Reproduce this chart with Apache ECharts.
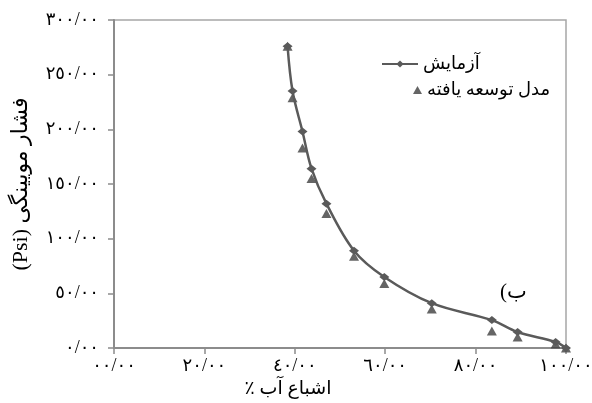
<!DOCTYPE html>
<html>
<head>
<meta charset="utf-8">
<script src="https://cdn.jsdelivr.net/npm/echarts@6/dist/echarts.min.js"></script>
<style>
html, body { margin: 0; padding: 0; background: #fff; }
#chart { width: 592px; height: 403px; }
</style>
</head>
<body>
<div id="chart"></div>
<script>
// اشباع آب (%) و فشار مویینگی (Psi)
var saturation = [38.4, 39.5, 41.7, 43.7, 47.0, 53.1, 59.8, 70.3, 83.6, 89.3, 97.7, 100];
var pcTest = [276, 235, 198, 164, 132, 89, 65, 41, 25.5, 14.6, 5.5, 0];
var pcModel = [276, 229, 183, 155, 123, 84, 59, 35.6, 15.5, 10, 3.6, 0];

var xTicks = [0, 20, 40, 60, 80, 100];
var xTickLabels = ['٠٠/٠٠', '٢٠/٠٠', '٤٠/٠٠', '٦٠/٠٠', '٨٠/٠٠', '١٠٠/٠٠'];
var yTicks = [0, 50, 100, 150, 200, 250, 300];
var yTickLabels = ['٠/٠٠', '٥٠/٠٠', '١٠٠/٠٠', '١٥٠/٠٠', '٢٠٠/٠٠', '٢٥٠/٠٠', '٣٠٠/٠٠'];

var seriesNames = ['آزمایش', 'مدل توسعه یافته'];
var xTitle = 'اشباع آب ٪';
var yTitle = 'فشار مویینگی (Psi)';
var panelTag = 'ب)';

var FONT = "'Liberation Serif', 'DejaVu Sans', serif";
var RLE = '\u202B', PDF = '\u202C', RLM = '\u200F';

function pairs(xs, ys) {
    var out = [];
    for (var i = 0; i < xs.length; i++) out.push([xs[i], ys[i]]);
    return out;
}

var chart = echarts.init(document.getElementById('chart'), null, { renderer: 'canvas' });
var option = {
    backgroundColor: '#fff',
    animation: false,
    textStyle: { fontFamily: FONT, color: '#000' },
    grid: {
        left: 114, right: 26, top: 20, bottom: 55,
        outerBoundsMode: 'none', containLabel: false,
        show: true, borderColor: '#a6a6a6', borderWidth: 1.5
    },
    legend: [{
        data: [seriesNames[0]],
        left: 376, top: 50,
        itemWidth: 36, itemHeight: 9, itemGap: 4,
        textStyle: { fontFamily: FONT, fontSize: 18, color: '#000' }
    }, {
        data: [{ name: seriesNames[1], icon: 'triangle' }],
        left: 408, top: 76,
        itemWidth: 9, itemHeight: 8,
        textStyle: { fontFamily: FONT, fontSize: 18, color: '#000' }
    }],
    xAxis: {
        type: 'value', min: 0, max: 100, interval: 20,
        name: xTitle + RLM, nameLocation: 'middle', nameGap: 26,
        nameTextStyle: { fontFamily: FONT, fontSize: 19, color: '#000', padding: [0, 104, 0, 0] },
        axisLine: { lineStyle: { color: '#8c8c8c', width: 2 } },
        axisTick: { show: true, length: 6, lineStyle: { color: '#8c8c8c', width: 1.5 } },
        splitLine: { show: false },
        axisLabel: {
            margin: 9, fontSize: 18, color: '#000', fontFamily: FONT,
            formatter: function (v) { var i = xTicks.indexOf(v); return i < 0 ? '' : xTickLabels[i]; }
        }
    },
    yAxis: {
        type: 'value', min: 0, max: 300, interval: 50,
        name: RLE + yTitle + PDF, nameLocation: 'middle', nameGap: 82, nameRotate: 90,
        nameTextStyle: { fontFamily: FONT, fontSize: 22, color: '#000' },
        axisLine: { show: true, lineStyle: { color: '#8c8c8c', width: 2 } },
        axisTick: { show: true, length: 6, lineStyle: { color: '#8c8c8c', width: 1.5 } },
        splitLine: { show: false },
        axisLabel: {
            margin: 15, fontSize: 18, color: '#000', fontFamily: FONT,
            formatter: function (v) { var i = yTicks.indexOf(v); return i < 0 ? '' : yTickLabels[i]; }
        }
    },
    graphic: [{
        type: 'text', left: 500, top: 282,
        style: { text: panelTag + RLM, font: "21px 'Liberation Serif', 'DejaVu Sans', serif", fill: '#000' }
    }],
    series: [{
        name: seriesNames[0], type: 'line',
        data: pairs(saturation, pcTest),
        smooth: 0.35,
        symbol: 'diamond', symbolSize: [10, 8],
        lineStyle: { color: '#5a5a5a', width: 2.5 },
        itemStyle: { color: '#5a5a5a' }
    }, {
        name: seriesNames[1], type: 'scatter',
        data: pairs(saturation, pcModel),
        symbol: 'triangle', symbolSize: [10, 9],
        itemStyle: { color: '#3f3f3f' }
    }]
};
chart.setOption(option);
</script>
</body>
</html>
